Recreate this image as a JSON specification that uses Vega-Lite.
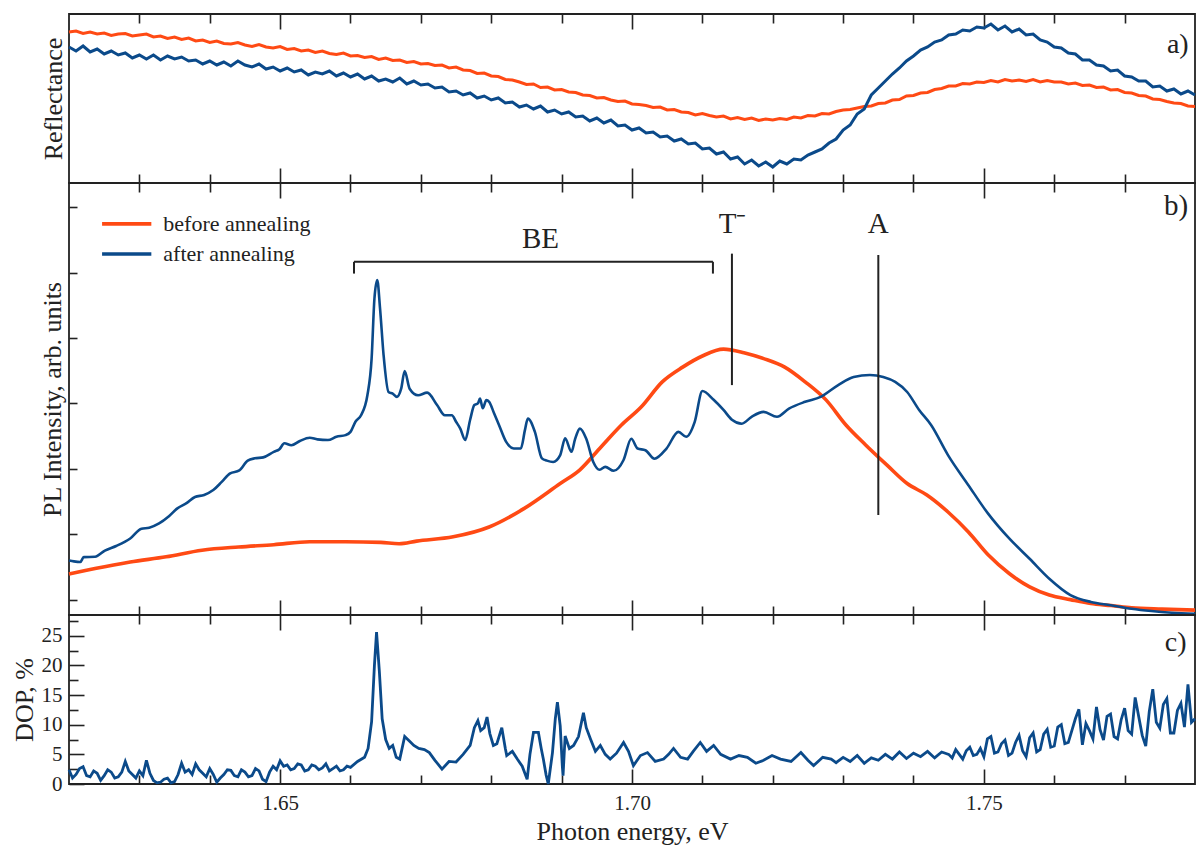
{
  "$schema": "https://vega.github.io/schema/vega-lite/v6.json",
  "padding": {"left": 10, "top": 12, "right": 4, "bottom": 2},
  "spacing": 0,
  "bounds": "flush",
  "config": {
    "font": "Liberation Serif",
    "view": {"stroke": "#222", "strokeWidth": 1.8},
    "axis": {
      "domain": false, "grid": false,
      "tickColor": "#222", "tickWidth": 1.6,
      "labelFont": "Liberation Serif", "titleFont": "Liberation Serif",
      "labelColor": "#222", "titleColor": "#222",
      "titleFontWeight": "normal", "labelFontSize": 21, "titleFontSize": 26
    }
  },
  "datasets": {
    "refl": [
      {"E":1.620,"before annealing":1.51,"after annealing":1.36},{"E":1.621,"before annealing":1.52,"after annealing":1.32},{"E":1.622,"before annealing":1.495,"after annealing":1.37},{"E":1.623,"before annealing":1.51,"after annealing":1.31},{"E":1.624,"before annealing":1.49,"after annealing":1.34},
      {"E":1.625,"before annealing":1.50,"after annealing":1.29},{"E":1.626,"before annealing":1.475,"after annealing":1.32},{"E":1.627,"before annealing":1.49,"after annealing":1.28},{"E":1.628,"before annealing":1.495,"after annealing":1.30},{"E":1.629,"before annealing":1.47,"after annealing":1.25},
      {"E":1.630,"before annealing":1.48,"after annealing":1.28},{"E":1.631,"before annealing":1.49,"after annealing":1.24},{"E":1.632,"before annealing":1.46,"after annealing":1.28},{"E":1.633,"before annealing":1.47,"after annealing":1.23},{"E":1.634,"before annealing":1.445,"after annealing":1.27},
      {"E":1.635,"before annealing":1.46,"after annealing":1.24},{"E":1.636,"before annealing":1.435,"after annealing":1.26},{"E":1.637,"before annealing":1.45,"after annealing":1.22},{"E":1.638,"before annealing":1.42,"after annealing":1.23},{"E":1.639,"before annealing":1.43,"after annealing":1.19},
      {"E":1.640,"before annealing":1.405,"after annealing":1.22},{"E":1.641,"before annealing":1.42,"after annealing":1.18},{"E":1.642,"before annealing":1.395,"after annealing":1.21},{"E":1.643,"before annealing":1.39,"after annealing":1.17},{"E":1.644,"before annealing":1.405,"after annealing":1.22},
      {"E":1.645,"before annealing":1.38,"after annealing":1.18},{"E":1.646,"before annealing":1.365,"after annealing":1.16},{"E":1.647,"before annealing":1.385,"after annealing":1.19},{"E":1.648,"before annealing":1.36,"after annealing":1.14},{"E":1.649,"before annealing":1.35,"after annealing":1.16},
      {"E":1.650,"before annealing":1.365,"after annealing":1.12},{"E":1.651,"before annealing":1.335,"after annealing":1.15},{"E":1.652,"before annealing":1.345,"after annealing":1.11},{"E":1.653,"before annealing":1.32,"after annealing":1.13},{"E":1.654,"before annealing":1.33,"after annealing":1.08},
      {"E":1.655,"before annealing":1.305,"after annealing":1.11},{"E":1.656,"before annealing":1.32,"after annealing":1.09},{"E":1.657,"before annealing":1.295,"after annealing":1.12},{"E":1.658,"before annealing":1.285,"after annealing":1.07},{"E":1.659,"before annealing":1.30,"after annealing":1.10},
      {"E":1.660,"before annealing":1.27,"after annealing":1.06},{"E":1.661,"before annealing":1.275,"after annealing":1.09},{"E":1.662,"before annealing":1.255,"after annealing":1.04},{"E":1.663,"before annealing":1.265,"after annealing":1.07},{"E":1.664,"before annealing":1.235,"after annealing":1.02},
      {"E":1.665,"before annealing":1.25,"after annealing":1.04},{"E":1.666,"before annealing":1.225,"after annealing":1.01},{"E":1.667,"before annealing":1.23,"after annealing":1.05},{"E":1.668,"before annealing":1.205,"after annealing":0.99},{"E":1.669,"before annealing":1.215,"after annealing":1.02},
      {"E":1.670,"before annealing":1.19,"after annealing":0.98},{"E":1.671,"before annealing":1.195,"after annealing":0.99},{"E":1.672,"before annealing":1.175,"after annealing":0.95},{"E":1.673,"before annealing":1.18,"after annealing":0.96},{"E":1.674,"before annealing":1.15,"after annealing":0.91},
      {"E":1.675,"before annealing":1.16,"after annealing":0.92},{"E":1.676,"before annealing":1.13,"after annealing":0.88},{"E":1.677,"before annealing":1.125,"after annealing":0.90},{"E":1.678,"before annealing":1.095,"after annealing":0.85},{"E":1.679,"before annealing":1.10,"after annealing":0.87},
      {"E":1.680,"before annealing":1.07,"after annealing":0.83},{"E":1.681,"before annealing":1.065,"after annealing":0.85},{"E":1.682,"before annealing":1.035,"after annealing":0.80},{"E":1.683,"before annealing":1.03,"after annealing":0.81},{"E":1.684,"before annealing":1.01,"after annealing":0.76},
      {"E":1.685,"before annealing":0.985,"after annealing":0.78},{"E":1.686,"before annealing":0.99,"after annealing":0.74},{"E":1.687,"before annealing":0.955,"after annealing":0.77},{"E":1.688,"before annealing":0.96,"after annealing":0.71},{"E":1.689,"before annealing":0.93,"after annealing":0.73},
      {"E":1.690,"before annealing":0.935,"after annealing":0.69},{"E":1.691,"before annealing":0.91,"after annealing":0.71},{"E":1.692,"before annealing":0.905,"after annealing":0.66},{"E":1.693,"before annealing":0.88,"after annealing":0.67},{"E":1.694,"before annealing":0.875,"after annealing":0.62},
      {"E":1.695,"before annealing":0.85,"after annealing":0.65},{"E":1.696,"before annealing":0.855,"after annealing":0.60},{"E":1.697,"before annealing":0.83,"after annealing":0.63},{"E":1.698,"before annealing":0.815,"after annealing":0.57},{"E":1.699,"before annealing":0.82,"after annealing":0.58},
      {"E":1.700,"before annealing":0.79,"after annealing":0.53},{"E":1.701,"before annealing":0.785,"after annealing":0.55},{"E":1.702,"before annealing":0.775,"after annealing":0.50},{"E":1.703,"before annealing":0.755,"after annealing":0.51},{"E":1.704,"before annealing":0.76,"after annealing":0.46},
      {"E":1.705,"before annealing":0.73,"after annealing":0.47},{"E":1.706,"before annealing":0.735,"after annealing":0.42},{"E":1.707,"before annealing":0.71,"after annealing":0.44},{"E":1.708,"before annealing":0.705,"after annealing":0.39},{"E":1.709,"before annealing":0.68,"after annealing":0.40},
      {"E":1.710,"before annealing":0.695,"after annealing":0.34},{"E":1.711,"before annealing":0.675,"after annealing":0.35},{"E":1.712,"before annealing":0.66,"after annealing":0.29},{"E":1.713,"before annealing":0.67,"after annealing":0.31},{"E":1.714,"before annealing":0.64,"after annealing":0.24},
      {"E":1.715,"before annealing":0.655,"after annealing":0.26},{"E":1.716,"before annealing":0.635,"after annealing":0.19},{"E":1.717,"before annealing":0.65,"after annealing":0.23},{"E":1.718,"before annealing":0.625,"after annealing":0.17},{"E":1.719,"before annealing":0.64,"after annealing":0.21},
      {"E":1.720,"before annealing":0.63,"after annealing":0.16},{"E":1.721,"before annealing":0.645,"after annealing":0.22},{"E":1.722,"before annealing":0.635,"after annealing":0.19},{"E":1.723,"before annealing":0.66,"after annealing":0.24},{"E":1.724,"before annealing":0.65,"after annealing":0.23},
      {"E":1.725,"before annealing":0.675,"after annealing":0.28},{"E":1.726,"before annealing":0.67,"after annealing":0.31},{"E":1.727,"before annealing":0.695,"after annealing":0.34},{"E":1.728,"before annealing":0.69,"after annealing":0.40},{"E":1.729,"before annealing":0.715,"after annealing":0.44},
      {"E":1.730,"before annealing":0.73,"after annealing":0.53},{"E":1.731,"before annealing":0.735,"after annealing":0.58},{"E":1.732,"before annealing":0.75,"after annealing":0.69},{"E":1.733,"before annealing":0.765,"after annealing":0.74},{"E":1.734,"before annealing":0.77,"after annealing":0.88},
      {"E":1.735,"before annealing":0.795,"after annealing":0.95},{"E":1.736,"before annealing":0.80,"after annealing":1.02},{"E":1.737,"before annealing":0.83,"after annealing":1.09},{"E":1.738,"before annealing":0.835,"after annealing":1.15},{"E":1.739,"before annealing":0.87,"after annealing":1.22},
      {"E":1.740,"before annealing":0.875,"after annealing":1.27},{"E":1.741,"before annealing":0.90,"after annealing":1.33},{"E":1.742,"before annealing":0.905,"after annealing":1.36},{"E":1.743,"before annealing":0.935,"after annealing":1.41},{"E":1.744,"before annealing":0.945,"after annealing":1.43},
      {"E":1.745,"before annealing":0.97,"after annealing":1.48},{"E":1.746,"before annealing":0.97,"after annealing":1.49},{"E":1.747,"before annealing":0.995,"after annealing":1.53},{"E":1.748,"before annealing":0.99,"after annealing":1.52},{"E":1.749,"before annealing":1.01,"after annealing":1.56},
      {"E":1.750,"before annealing":1.005,"after annealing":1.55},{"E":1.751,"before annealing":1.025,"after annealing":1.59},{"E":1.752,"before annealing":1.01,"after annealing":1.53},{"E":1.753,"before annealing":1.035,"after annealing":1.57},{"E":1.754,"before annealing":1.02,"after annealing":1.51},
      {"E":1.755,"before annealing":1.03,"after annealing":1.54},{"E":1.756,"before annealing":1.015,"after annealing":1.48},{"E":1.757,"before annealing":1.035,"after annealing":1.49},{"E":1.758,"before annealing":1.01,"after annealing":1.43},{"E":1.759,"before annealing":1.025,"after annealing":1.41},
      {"E":1.760,"before annealing":1.01,"after annealing":1.36},{"E":1.761,"before annealing":1.01,"after annealing":1.35},{"E":1.762,"before annealing":0.99,"after annealing":1.30},{"E":1.763,"before annealing":1.00,"after annealing":1.29},{"E":1.764,"before annealing":0.975,"after annealing":1.23},
      {"E":1.765,"before annealing":0.98,"after annealing":1.23},{"E":1.766,"before annealing":0.955,"after annealing":1.18},{"E":1.767,"before annealing":0.96,"after annealing":1.17},{"E":1.768,"before annealing":0.93,"after annealing":1.12},{"E":1.769,"before annealing":0.935,"after annealing":1.13},
      {"E":1.770,"before annealing":0.905,"after annealing":1.07},{"E":1.771,"before annealing":0.90,"after annealing":1.06},{"E":1.772,"before annealing":0.875,"after annealing":1.02},{"E":1.773,"before annealing":0.87,"after annealing":1.02},{"E":1.774,"before annealing":0.84,"after annealing":0.96},
      {"E":1.775,"before annealing":0.835,"after annealing":0.97},{"E":1.776,"before annealing":0.815,"after annealing":0.92},{"E":1.777,"before annealing":0.80,"after annealing":0.94},{"E":1.778,"before annealing":0.795,"after annealing":0.89},{"E":1.779,"before annealing":0.77,"after annealing":0.92},
      {"E":1.780,"before annealing":0.765,"after annealing":0.88}
    ],
    "pl": [
      {"E":1.62,"I":0.78,"s":"before annealing"},{"E":1.6237,"I":0.95,"s":"before annealing"},{"E":1.6287,"I":1.15,"s":"before annealing"},{"E":1.6338,"I":1.31,"s":"before annealing"},{"E":1.6389,"I":1.51,"s":"before annealing"},
      {"E":1.6441,"I":1.61,"s":"before annealing"},{"E":1.6491,"I":1.68,"s":"before annealing"},{"E":1.6542,"I":1.77,"s":"before annealing"},{"E":1.6593,"I":1.77,"s":"before annealing"},{"E":1.6643,"I":1.75,"s":"before annealing"},
      {"E":1.6669,"I":1.71,"s":"before annealing"},{"E":1.6694,"I":1.79,"s":"before annealing"},{"E":1.6746,"I":1.92,"s":"before annealing"},{"E":1.6797,"I":2.22,"s":"before annealing"},{"E":1.6847,"I":2.79,"s":"before annealing"},
      {"E":1.6898,"I":3.55,"s":"before annealing"},{"E":1.6926,"I":3.97,"s":"before annealing"},{"E":1.6956,"I":4.67,"s":"before annealing"},{"E":1.6985,"I":5.34,"s":"before annealing"},{"E":1.7013,"I":5.89,"s":"before annealing"},
      {"E":1.7043,"I":6.66,"s":"before annealing"},{"E":1.7072,"I":7.11,"s":"before annealing"},{"E":1.71,"I":7.45,"s":"before annealing"},{"E":1.713,"I":7.66,"s":"before annealing"},{"E":1.7159,"I":7.55,"s":"before annealing"},
      {"E":1.7187,"I":7.37,"s":"before annealing"},{"E":1.7217,"I":7.11,"s":"before annealing"},{"E":1.7246,"I":6.66,"s":"before annealing"},{"E":1.7276,"I":6.1,"s":"before annealing"},{"E":1.7304,"I":5.34,"s":"before annealing"},
      {"E":1.7332,"I":4.73,"s":"before annealing"},{"E":1.7362,"I":4.12,"s":"before annealing"},{"E":1.7391,"I":3.55,"s":"before annealing"},{"E":1.7419,"I":3.2,"s":"before annealing"},{"E":1.7449,"I":2.68,"s":"before annealing"},
      {"E":1.7478,"I":2.07,"s":"before annealing"},{"E":1.7506,"I":1.37,"s":"before annealing"},{"E":1.7536,"I":0.8,"s":"before annealing"},{"E":1.7565,"I":0.39,"s":"before annealing"},{"E":1.7593,"I":0.14,"s":"before annealing"},
      {"E":1.7623,"I":0.0,"s":"before annealing"},{"E":1.7652,"I":-0.12,"s":"before annealing"},{"E":1.7681,"I":-0.18,"s":"before annealing"},{"E":1.771,"I":-0.25,"s":"before annealing"},{"E":1.7753,"I":-0.29,"s":"before annealing"},
      {"E":1.78,"I":-0.32,"s":"before annealing"},
      {"E":1.62,"I":1.2,"s":"after annealing"},{"E":1.6207,"I":1.17,"s":"after annealing"},{"E":1.6216,"I":1.15,"s":"after annealing"},{"E":1.6221,"I":1.3,"s":"after annealing"},{"E":1.6237,"I":1.31,"s":"after annealing"},
      {"E":1.6251,"I":1.5,"s":"after annealing"},{"E":1.6267,"I":1.64,"s":"after annealing"},{"E":1.6287,"I":1.87,"s":"after annealing"},{"E":1.6303,"I":2.17,"s":"after annealing"},{"E":1.6314,"I":2.2,"s":"after annealing"},
      {"E":1.6328,"I":2.33,"s":"after annealing"},{"E":1.6342,"I":2.55,"s":"after annealing"},{"E":1.6354,"I":2.79,"s":"after annealing"},{"E":1.6367,"I":2.95,"s":"after annealing"},{"E":1.6379,"I":3.14,"s":"after annealing"},
      {"E":1.6392,"I":3.2,"s":"after annealing"},{"E":1.6405,"I":3.35,"s":"after annealing"},{"E":1.6417,"I":3.6,"s":"after annealing"},{"E":1.6429,"I":3.86,"s":"after annealing"},{"E":1.6442,"I":3.95,"s":"after annealing"},
      {"E":1.6454,"I":4.25,"s":"after annealing"},{"E":1.6464,"I":4.32,"s":"after annealing"},{"E":1.6476,"I":4.35,"s":"after annealing"},{"E":1.6491,"I":4.52,"s":"after annealing"},{"E":1.6499,"I":4.6,"s":"after annealing"},
      {"E":1.6506,"I":4.78,"s":"after annealing"},{"E":1.6516,"I":4.72,"s":"after annealing"},{"E":1.6528,"I":4.85,"s":"after annealing"},{"E":1.6542,"I":4.95,"s":"after annealing"},{"E":1.6553,"I":4.9,"s":"after annealing"},
      {"E":1.6568,"I":4.88,"s":"after annealing"},{"E":1.658,"I":4.98,"s":"after annealing"},{"E":1.6593,"I":5.03,"s":"after annealing"},{"E":1.66,"I":5.13,"s":"after annealing"},{"E":1.6607,"I":5.44,"s":"after annealing"},
      {"E":1.6615,"I":5.64,"s":"after annealing"},{"E":1.6624,"I":6.25,"s":"after annealing"},{"E":1.663,"I":7.37,"s":"after annealing"},{"E":1.6634,"I":9.2,"s":"after annealing"},{"E":1.6638,"I":9.77,"s":"after annealing"},
      {"E":1.6642,"I":8.9,"s":"after annealing"},{"E":1.6647,"I":7.48,"s":"after annealing"},{"E":1.6654,"I":6.35,"s":"after annealing"},{"E":1.666,"I":6.3,"s":"after annealing"},{"E":1.6666,"I":6.2,"s":"after annealing"},
      {"E":1.6672,"I":6.45,"s":"after annealing"},{"E":1.6677,"I":6.99,"s":"after annealing"},{"E":1.6684,"I":6.45,"s":"after annealing"},{"E":1.6696,"I":6.25,"s":"after annealing"},{"E":1.6709,"I":6.33,"s":"after annealing"},
      {"E":1.6723,"I":5.95,"s":"after annealing"},{"E":1.6734,"I":5.64,"s":"after annealing"},{"E":1.6744,"I":5.64,"s":"after annealing"},{"E":1.675,"I":5.44,"s":"after annealing"},{"E":1.6756,"I":5.23,"s":"after annealing"},
      {"E":1.6763,"I":4.88,"s":"after annealing"},{"E":1.677,"I":5.5,"s":"after annealing"},{"E":1.6776,"I":5.95,"s":"after annealing"},{"E":1.6781,"I":6.0,"s":"after annealing"},{"E":1.6784,"I":6.15,"s":"after annealing"},
      {"E":1.6788,"I":5.85,"s":"after annealing"},{"E":1.6793,"I":6.1,"s":"after annealing"},{"E":1.6797,"I":6.05,"s":"after annealing"},{"E":1.6804,"I":5.7,"s":"after annealing"},{"E":1.6811,"I":5.34,"s":"after annealing"},
      {"E":1.6821,"I":4.83,"s":"after annealing"},{"E":1.6832,"I":4.62,"s":"after annealing"},{"E":1.6842,"I":4.62,"s":"after annealing"},{"E":1.6848,"I":5.2,"s":"after annealing"},{"E":1.6852,"I":5.54,"s":"after annealing"},
      {"E":1.6862,"I":5.13,"s":"after annealing"},{"E":1.6872,"I":4.32,"s":"after annealing"},{"E":1.6879,"I":4.25,"s":"after annealing"},{"E":1.6888,"I":4.21,"s":"after annealing"},{"E":1.6898,"I":4.42,"s":"after annealing"},
      {"E":1.6905,"I":4.93,"s":"after annealing"},{"E":1.6914,"I":4.52,"s":"after annealing"},{"E":1.6919,"I":4.9,"s":"after annealing"},{"E":1.6926,"I":5.23,"s":"after annealing"},{"E":1.6935,"I":4.92,"s":"after annealing"},
      {"E":1.6945,"I":4.21,"s":"after annealing"},{"E":1.6954,"I":3.97,"s":"after annealing"},{"E":1.6962,"I":4.06,"s":"after annealing"},{"E":1.6974,"I":3.94,"s":"after annealing"},{"E":1.6988,"I":4.27,"s":"after annealing"},
      {"E":1.6999,"I":4.92,"s":"after annealing"},{"E":1.7008,"I":4.62,"s":"after annealing"},{"E":1.7019,"I":4.57,"s":"after annealing"},{"E":1.7032,"I":4.31,"s":"after annealing"},{"E":1.7049,"I":4.62,"s":"after annealing"},
      {"E":1.7066,"I":5.13,"s":"after annealing"},{"E":1.7077,"I":4.98,"s":"after annealing"},{"E":1.7089,"I":5.43,"s":"after annealing"},{"E":1.71,"I":6.38,"s":"after annealing"},{"E":1.7116,"I":6.11,"s":"after annealing"},
      {"E":1.713,"I":5.8,"s":"after annealing"},{"E":1.7142,"I":5.5,"s":"after annealing"},{"E":1.7156,"I":5.38,"s":"after annealing"},{"E":1.717,"I":5.59,"s":"after annealing"},{"E":1.7187,"I":5.74,"s":"after annealing"},
      {"E":1.7206,"I":5.59,"s":"after annealing"},{"E":1.7223,"I":5.84,"s":"after annealing"},{"E":1.7246,"I":6.05,"s":"after annealing"},{"E":1.7268,"I":6.2,"s":"after annealing"},{"E":1.7293,"I":6.56,"s":"after annealing"},
      {"E":1.7315,"I":6.81,"s":"after annealing"},{"E":1.7338,"I":6.87,"s":"after annealing"},{"E":1.7357,"I":6.81,"s":"after annealing"},{"E":1.7374,"I":6.66,"s":"after annealing"},{"E":1.7391,"I":6.35,"s":"after annealing"},
      {"E":1.7408,"I":5.8,"s":"after annealing"},{"E":1.7425,"I":5.34,"s":"after annealing"},{"E":1.7449,"I":4.42,"s":"after annealing"},{"E":1.7478,"I":3.5,"s":"after annealing"},{"E":1.7506,"I":2.63,"s":"after annealing"},
      {"E":1.7536,"I":1.87,"s":"after annealing"},{"E":1.7565,"I":1.25,"s":"after annealing"},{"E":1.7593,"I":0.64,"s":"after annealing"},{"E":1.7623,"I":0.14,"s":"after annealing"},{"E":1.7652,"I":-0.07,"s":"after annealing"},
      {"E":1.768,"I":-0.17,"s":"after annealing"},{"E":1.771,"I":-0.28,"s":"after annealing"},{"E":1.7738,"I":-0.35,"s":"after annealing"},{"E":1.7767,"I":-0.4,"s":"after annealing"},{"E":1.78,"I":-0.43,"s":"after annealing"}
    ],
    "dop": [
      {"E":1.62,"D":2.4},{"E":1.6205,"D":1.0},{"E":1.621,"D":1.6},{"E":1.6215,"D":2.6},{"E":1.622,"D":2.9},{"E":1.6225,"D":1.4},{"E":1.623,"D":1.2},{"E":1.6235,"D":2.2},{"E":1.624,"D":1.8},{"E":1.6245,"D":0.6},
      {"E":1.625,"D":1.4},{"E":1.6255,"D":2.4},{"E":1.626,"D":2.0},{"E":1.6265,"D":1.0},{"E":1.627,"D":1.2},{"E":1.6275,"D":2.0},{"E":1.628,"D":3.8},{"E":1.6285,"D":2.2},{"E":1.629,"D":1.6},{"E":1.6295,"D":1.0},
      {"E":1.63,"D":2.2},{"E":1.6305,"D":1.4},{"E":1.631,"D":4.0},{"E":1.6315,"D":1.8},{"E":1.632,"D":0.6},{"E":1.6325,"D":0.2},{"E":1.633,"D":0.3},{"E":1.6335,"D":0.8},{"E":1.634,"D":1.0},{"E":1.6345,"D":0.2},
      {"E":1.635,"D":0.4},{"E":1.6355,"D":1.6},{"E":1.636,"D":3.5},{"E":1.6365,"D":2.0},{"E":1.637,"D":2.4},{"E":1.6375,"D":1.6},{"E":1.638,"D":3.4},{"E":1.6385,"D":2.4},{"E":1.639,"D":1.8},{"E":1.6395,"D":1.2},
      {"E":1.64,"D":2.6},{"E":1.6405,"D":1.6},{"E":1.641,"D":0.3},{"E":1.6415,"D":1.0},{"E":1.642,"D":1.6},{"E":1.6425,"D":2.4},{"E":1.643,"D":2.3},{"E":1.6435,"D":1.4},{"E":1.644,"D":1.2},{"E":1.6445,"D":2.4},
      {"E":1.645,"D":2.0},{"E":1.6455,"D":1.2},{"E":1.646,"D":1.4},{"E":1.6465,"D":2.6},{"E":1.647,"D":2.2},{"E":1.6475,"D":0.8},{"E":1.648,"D":0.4},{"E":1.6485,"D":2.0},{"E":1.649,"D":3.0},{"E":1.6495,"D":2.4},
      {"E":1.65,"D":3.9},{"E":1.6505,"D":3.0},{"E":1.651,"D":3.2},{"E":1.6515,"D":2.4},{"E":1.652,"D":2.6},{"E":1.6525,"D":3.4},{"E":1.653,"D":3.2},{"E":1.6535,"D":2.2},{"E":1.654,"D":2.4},{"E":1.6545,"D":3.2},
      {"E":1.655,"D":3.0},{"E":1.6555,"D":2.4},{"E":1.656,"D":2.7},{"E":1.6565,"D":3.4},{"E":1.657,"D":2.2},{"E":1.6575,"D":2.6},{"E":1.658,"D":3.0},{"E":1.6585,"D":2.2},{"E":1.659,"D":2.4},{"E":1.6595,"D":3.0},
      {"E":1.66,"D":2.8},{"E":1.661,"D":3.8},{"E":1.662,"D":4.5},{"E":1.6625,"D":6.0},{"E":1.663,"D":10.5},{"E":1.6634,"D":20},{"E":1.6637,"D":25.6},{"E":1.6641,"D":19},{"E":1.6645,"D":11},{"E":1.665,"D":7.5},
      {"E":1.6655,"D":6.0},{"E":1.666,"D":6.5},{"E":1.6665,"D":4.5},{"E":1.667,"D":4.2},{"E":1.6677,"D":8.0},{"E":1.6684,"D":7.2},{"E":1.669,"D":6.5},{"E":1.6697,"D":6.0},{"E":1.6705,"D":5.8},{"E":1.6712,"D":5.3},
      {"E":1.672,"D":4.0},{"E":1.673,"D":2.5},{"E":1.674,"D":3.8},{"E":1.675,"D":3.7},{"E":1.676,"D":5.0},{"E":1.677,"D":6.5},{"E":1.6776,"D":9.5},{"E":1.6781,"D":10.7},{"E":1.6785,"D":9.0},{"E":1.679,"D":9.5},
      {"E":1.6794,"D":11.3},{"E":1.6798,"D":8.5},{"E":1.6803,"D":6.5},{"E":1.6808,"D":6.8},{"E":1.6815,"D":9.5},{"E":1.682,"D":6.0},{"E":1.6822,"D":4.8},{"E":1.683,"D":5.5},{"E":1.6837,"D":4.2},{"E":1.6844,"D":3.0},
      {"E":1.6851,"D":0.8},{"E":1.6855,"D":5.0},{"E":1.686,"D":8.7},{"E":1.6867,"D":8.7},{"E":1.6871,"D":6.0},{"E":1.6874,"D":4.2},{"E":1.6878,"D":1.5},{"E":1.6881,"D":0.0},{"E":1.6887,"D":5.3},{"E":1.6891,"D":11},
      {"E":1.6894,"D":13.8},{"E":1.6898,"D":9.8},{"E":1.6901,"D":3.0},{"E":1.6902,"D":1.4},{"E":1.6905,"D":8.1},{"E":1.6911,"D":6.0},{"E":1.6917,"D":6.5},{"E":1.6924,"D":8.0},{"E":1.6931,"D":12.0},{"E":1.6935,"D":9.5},
      {"E":1.6941,"D":7.6},{"E":1.6948,"D":5.5},{"E":1.6955,"D":6.5},{"E":1.6962,"D":5.0},{"E":1.6969,"D":4.2},{"E":1.6978,"D":5.2},{"E":1.6988,"D":7.0},{"E":1.6995,"D":5.5},{"E":1.7002,"D":3.1},{"E":1.7012,"D":4.8},
      {"E":1.7022,"D":5.3},{"E":1.7033,"D":3.8},{"E":1.7045,"D":4.2},{"E":1.7052,"D":5.0},{"E":1.7059,"D":6.0},{"E":1.7069,"D":4.5},{"E":1.7079,"D":4.2},{"E":1.7087,"D":5.5},{"E":1.7097,"D":7.0},{"E":1.7106,"D":5.5},
      {"E":1.7116,"D":6.5},{"E":1.7126,"D":5.0},{"E":1.714,"D":4.2},{"E":1.7152,"D":4.8},{"E":1.7164,"D":4.5},{"E":1.7176,"D":3.5},{"E":1.7187,"D":4.0},{"E":1.7199,"D":4.8},{"E":1.7211,"D":4.2},{"E":1.7226,"D":3.8},
      {"E":1.724,"D":5.3},{"E":1.725,"D":4.0},{"E":1.7258,"D":3.1},{"E":1.7271,"D":4.5},{"E":1.7283,"D":4.2},{"E":1.729,"D":3.6},{"E":1.73,"D":4.5},{"E":1.731,"D":3.8},{"E":1.732,"D":4.8},{"E":1.733,"D":3.5},
      {"E":1.734,"D":4.4},{"E":1.735,"D":4.0},{"E":1.736,"D":5.0},{"E":1.737,"D":4.2},{"E":1.738,"D":5.4},{"E":1.739,"D":4.3},{"E":1.74,"D":5.2},{"E":1.741,"D":4.6},{"E":1.742,"D":5.5},{"E":1.743,"D":4.4},
      {"E":1.744,"D":5.4},{"E":1.745,"D":5.0},{"E":1.7455,"D":4.4},{"E":1.746,"D":5.8},{"E":1.7465,"D":5.0},{"E":1.747,"D":4.2},{"E":1.7475,"D":5.6},{"E":1.748,"D":6.2},{"E":1.7485,"D":4.8},{"E":1.749,"D":5.0},
      {"E":1.7495,"D":6.0},{"E":1.75,"D":4.6},{"E":1.7505,"D":7.6},{"E":1.751,"D":8.0},{"E":1.7515,"D":5.2},{"E":1.752,"D":5.4},{"E":1.7525,"D":6.8},{"E":1.753,"D":7.4},{"E":1.7535,"D":4.8},{"E":1.754,"D":5.2},
      {"E":1.7545,"D":7.0},{"E":1.755,"D":8.2},{"E":1.7555,"D":5.6},{"E":1.756,"D":4.6},{"E":1.7565,"D":7.8},{"E":1.757,"D":8.6},{"E":1.7575,"D":5.4},{"E":1.758,"D":5.8},{"E":1.7585,"D":8.4},{"E":1.759,"D":9.2},
      {"E":1.7595,"D":6.2},{"E":1.76,"D":6.4},{"E":1.7605,"D":9.6},{"E":1.761,"D":10.0},{"E":1.7615,"D":6.8},{"E":1.762,"D":7.0},{"E":1.7625,"D":9.0},{"E":1.763,"D":11.0},{"E":1.7635,"D":12.6},{"E":1.764,"D":6.6},
      {"E":1.7645,"D":10.2},{"E":1.765,"D":9.0},{"E":1.7655,"D":7.6},{"E":1.766,"D":13.0},{"E":1.7665,"D":9.2},{"E":1.767,"D":7.4},{"E":1.7675,"D":11.4},{"E":1.768,"D":11.8},{"E":1.7685,"D":8.0},{"E":1.769,"D":7.6},
      {"E":1.7695,"D":10.8},{"E":1.77,"D":12.8},{"E":1.7705,"D":9.0},{"E":1.771,"D":8.4},{"E":1.7715,"D":14.6},{"E":1.772,"D":11.4},{"E":1.7725,"D":8.2},{"E":1.773,"D":6.4},{"E":1.7735,"D":12.2},{"E":1.774,"D":16.0},
      {"E":1.7745,"D":10.4},{"E":1.775,"D":9.4},{"E":1.7755,"D":13.4},{"E":1.776,"D":14.4},{"E":1.7765,"D":8.6},{"E":1.777,"D":8.6},{"E":1.7775,"D":12.4},{"E":1.778,"D":13.6},{"E":1.7785,"D":9.6},{"E":1.779,"D":16.8},
      {"E":1.7795,"D":10.4},{"E":1.78,"D":11.0}
    ],
    "plMarks": [
      {"E":1.6605,"E2":1.7115,"I":10.33,"I2":10.33},
      {"E":1.6605,"E2":1.6605,"I":10.33,"I2":9.97},
      {"E":1.7115,"E2":1.7115,"I":10.33,"I2":9.97},
      {"E":1.7142,"E2":1.7142,"I":10.58,"I2":6.56},
      {"E":1.735,"E2":1.735,"I":10.54,"I2":2.59}
    ],
    "plText": [
      {"E":1.687,"I":11.03,"t":"BE"},
      {"E":1.7143,"I":11.5,"t":"T⁻"},
      {"E":1.735,"I":11.5,"t":"A"},
      {"E":1.7773,"I":12.05,"t":"b)"}
    ],
    "plKey": [
      {"E":1.6247,"E2":1.6317,"I":11.49,"s":"before annealing"},
      {"E":1.6247,"E2":1.6317,"I":10.57,"s":"after annealing"}
    ]
  },
  "vconcat": [
    {
      "width": 1126, "height": 169,
      "layer": [
        {
          "data": {"name": "refl"},
          "transform": [{"fold": ["before annealing", "after annealing"], "as": ["s", "R"]}],
          "mark": {"type": "line", "strokeWidth": 3},
          "encoding": {
            "x": {"field": "E", "type": "quantitative",
              "scale": {"domain": [1.62, 1.78], "nice": false, "zero": false},
              "axis": {"orient": "bottom", "title": null, "labels": false,
                "values": [1.63,1.64,1.65,1.66,1.67,1.68,1.69,1.7,1.71,1.72,1.73,1.74,1.75,1.76,1.77],
                "tickSize": {"condition": {"test": "abs(datum.value-1.65)<0.0001||abs(datum.value-1.7)<0.0001||abs(datum.value-1.75)<0.0001", "value": -15}, "value": -9}}},
            "y": {"field": "R", "type": "quantitative",
              "scale": {"domain": [0, 1.69], "nice": false, "zero": false},
              "axis": {"title": "Reflectance", "ticks": false, "labels": false, "titlePadding": 3}},
            "color": {"field": "s", "type": "nominal",
              "scale": {"domain": ["before annealing", "after annealing"], "range": ["#ff4a14", "#0b4a8a"]},
              "legend": null}
          }
        },
        {
          "data": {"values": [{"E": 1.7791, "R": 1.38, "t": "a)"}]},
          "mark": {"type": "text", "align": "right", "baseline": "middle", "fontSize": 28, "font": "Liberation Serif", "color": "#222"},
          "encoding": {
            "x": {"field": "E", "type": "quantitative",
              "scale": {"domain": [1.62, 1.78], "nice": false, "zero": false},
              "axis": {"orient": "top", "title": null, "labels": false,
                "values": [1.63,1.64,1.65,1.66,1.67,1.68,1.69,1.7,1.71,1.72,1.73,1.74,1.75,1.76,1.77],
                "tickSize": {"condition": {"test": "abs(datum.value-1.65)<0.0001||abs(datum.value-1.7)<0.0001||abs(datum.value-1.75)<0.0001", "value": -15}, "value": -9}}},
            "y": {"field": "R", "type": "quantitative"},
            "text": {"field": "t"}
          }
        }
      ],
      "resolve": {"axis": {"x": "independent"}}
    },
    {
      "width": 1126, "height": 432,
      "layer": [
        {
          "data": {"name": "pl"},
          "mark": {"type": "line", "interpolate": "monotone"},
          "encoding": {
            "x": {"field": "E", "type": "quantitative",
              "scale": {"domain": [1.62, 1.78], "nice": false, "zero": false},
              "axis": {"orient": "bottom", "title": null, "labels": false,
                "values": [1.63,1.64,1.65,1.66,1.67,1.68,1.69,1.7,1.71,1.72,1.73,1.74,1.75,1.76,1.77],
                "tickSize": {"condition": {"test": "abs(datum.value-1.65)<0.0001||abs(datum.value-1.7)<0.0001||abs(datum.value-1.75)<0.0001", "value": -15}, "value": -9}}},
            "y": {"field": "I", "type": "quantitative",
              "scale": {"domain": [-0.47, 12.74], "nice": false, "zero": false},
              "axis": {"title": "PL Intensity, arb. units", "labels": false, "titlePadding": 3,
                "values": [0,1,2,3,4,5,6,7,8,9,10,11,12],
                "tickSize": {"condition": {"test": "datum.value%2==1", "value": -13}, "value": -8}}},
            "color": {"field": "s", "type": "nominal",
              "scale": {"domain": ["before annealing", "after annealing"], "range": ["#ff4a14", "#0b4a8a"]},
              "legend": null},
            "strokeWidth": {"field": "s", "type": "nominal",
              "scale": {"domain": ["before annealing", "after annealing"], "range": [3.6, 2.6]},
              "legend": null}
          }
        },
        {
          "data": {"name": "plMarks"},
          "mark": {"type": "rule", "color": "#222", "strokeWidth": 2},
          "encoding": {
            "x": {"field": "E", "type": "quantitative",
              "scale": {"domain": [1.62, 1.78], "nice": false, "zero": false},
              "axis": {"orient": "top", "title": null, "labels": false,
                "values": [1.63,1.64,1.65,1.66,1.67,1.68,1.69,1.7,1.71,1.72,1.73,1.74,1.75,1.76,1.77],
                "tickSize": {"condition": {"test": "abs(datum.value-1.65)<0.0001||abs(datum.value-1.7)<0.0001||abs(datum.value-1.75)<0.0001", "value": -15}, "value": -9}}},
            "x2": {"field": "E2"},
            "y": {"field": "I", "type": "quantitative"},
            "y2": {"field": "I2"}
          }
        },
        {
          "data": {"name": "plKey"},
          "mark": {"type": "rule", "strokeWidth": 3.6},
          "encoding": {
            "x": {"field": "E", "type": "quantitative", "axis": null},
            "x2": {"field": "E2"},
            "y": {"field": "I", "type": "quantitative"},
            "color": {"field": "s", "type": "nominal", "legend": null}
          }
        },
        {
          "data": {"name": "plKey"},
          "mark": {"type": "text", "align": "left", "baseline": "middle", "dx": 12, "fontSize": 22, "font": "Liberation Serif", "color": "#222"},
          "encoding": {
            "x": {"field": "E2", "type": "quantitative", "axis": null},
            "y": {"field": "I", "type": "quantitative"},
            "text": {"field": "s"}
          }
        },
        {
          "data": {"name": "plText"},
          "mark": {"type": "text", "align": "center", "baseline": "middle", "fontSize": 29, "font": "Liberation Serif", "color": "#222"},
          "encoding": {
            "x": {"field": "E", "type": "quantitative", "axis": null},
            "y": {"field": "I", "type": "quantitative"},
            "text": {"field": "t"}
          }
        }
      ],
      "resolve": {"axis": {"x": "independent"}}
    },
    {
      "width": 1126, "height": 169,
      "layer": [
        {
          "data": {"name": "dop"},
          "mark": {"type": "line", "strokeWidth": 2.8, "color": "#0b4a8a"},
          "encoding": {
            "x": {"field": "E", "type": "quantitative",
              "scale": {"domain": [1.62, 1.78], "nice": false, "zero": false},
              "axis": {"orient": "bottom", "title": null, "labels": false,
                "values": [1.63,1.64,1.65,1.66,1.67,1.68,1.69,1.7,1.71,1.72,1.73,1.74,1.75,1.76,1.77],
                "tickSize": {"condition": {"test": "abs(datum.value-1.65)<0.0001||abs(datum.value-1.7)<0.0001||abs(datum.value-1.75)<0.0001", "value": -15}, "value": -9}}},
            "y": {"field": "D", "type": "quantitative",
              "scale": {"domain": [0, 28.5], "nice": false, "zero": false},
              "axis": {"orient": "left", "title": null, "labels": false,
                "values": [0,2.5,5,7.5,10,12.5,15,17.5,20,22.5,25,27.5],
                "tickSize": {"condition": {"test": "datum.value%5==0", "value": -15}, "value": -9}}}
          }
        },
        {
          "data": {"values": [{"E": 1.7788, "D": 23.7, "t": "c)"}]},
          "mark": {"type": "text", "align": "right", "baseline": "middle", "fontSize": 28, "font": "Liberation Serif", "color": "#222"},
          "encoding": {
            "x": {"field": "E", "type": "quantitative",
              "scale": {"domain": [1.62, 1.78], "nice": false, "zero": false},
              "axis": {"orient": "top", "title": null, "labels": false,
                "values": [1.63,1.64,1.65,1.66,1.67,1.68,1.69,1.7,1.71,1.72,1.73,1.74,1.75,1.76,1.77],
                "tickSize": {"condition": {"test": "abs(datum.value-1.65)<0.0001||abs(datum.value-1.7)<0.0001||abs(datum.value-1.75)<0.0001", "value": -15}, "value": -9}}},
            "y": {"field": "D", "type": "quantitative",
              "scale": {"domain": [0, 28.5], "nice": false, "zero": false},
              "axis": {"orient": "left", "title": "DOP, %", "ticks": false, "values": [0,5,10,15,20,25],
                "labelPadding": 7, "titlePadding": 4}},
            "text": {"field": "t"}
          }
        },
        {
          "data": {"values": [{"E": 1.7788, "D": 23.7}]},
          "mark": {"type": "point", "opacity": 0},
          "encoding": {
            "x": {"field": "E", "type": "quantitative",
              "scale": {"domain": [1.62, 1.78], "nice": false, "zero": false},
              "axis": {"orient": "bottom", "title": "Photon energy, eV", "ticks": false,
                "values": [1.65, 1.7, 1.75], "format": ".2f", "labelPadding": 8, "titlePadding": 5}},
            "y": {"field": "D", "type": "quantitative", "axis": null}
          }
        }
      ],
      "resolve": {"axis": {"x": "independent", "y": "independent"}}
    }
  ]
}
